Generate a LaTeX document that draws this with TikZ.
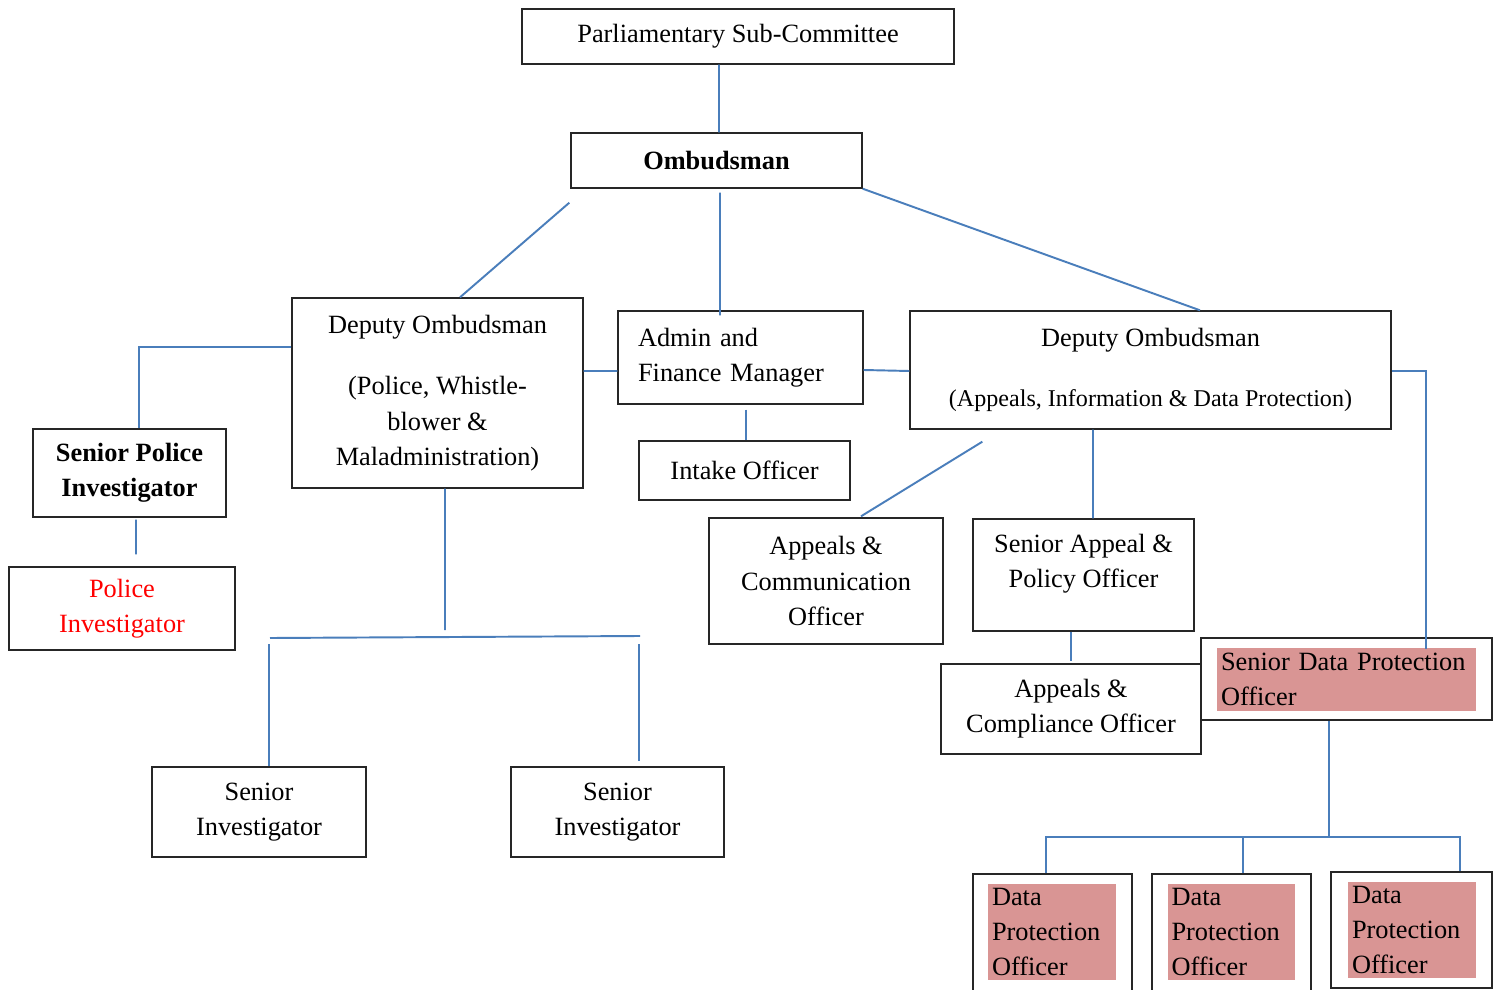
\documentclass[tikz,border=0pt]{standalone}
\usepackage{fontspec}
\setmainfont{Liberation Serif}
\usetikzlibrary{calc}
\definecolor{lineblue}{HTML}{4A7EBB}
\definecolor{pinkhl}{HTML}{D99594}
\newcommand{\dfont}{\fontsize{15}{20}\selectfont}
\tikzset{
  box/.style={draw=black!85, line width=0.8pt, inner sep=0pt, align=center, font=\dfont},
  conn/.style={draw=lineblue, line width=1.1pt},
  hl/.style={fill=pinkhl, inner xsep=0.08cm, inner ysep=0pt, align=left, font=\dfont},
}
\begin{document}
\begin{tikzpicture}[x=0.02cm,y=-0.02cm]
\clip (0,0) rectangle (1499,990);
\fill[white] (0,0) rectangle (1499,990);

% nodes
\node[box, minimum width=8.64cm, minimum height=1.1cm] (parl) at (738,36.5) {Parliamentary Sub-Committee};
\node[box, minimum width=5.82cm, minimum height=1.1cm, font=\dfont\bfseries] (omb) at (716.5,160.5) {Ombudsman};
\node[box, minimum width=5.82cm, minimum height=3.8cm] (dep1) at (437.5,393) {Deputy Ombudsman\\[15pt](Police, Whistle-\\blower \&\\Maladministration)};
\node[box, minimum width=4.9cm, minimum height=1.86cm, align=left, text width=4.1cm, inner xsep=0.4cm] (admin) at (740.5,357.5) {Admin and\\Finance Manager};
\node[box, minimum width=4.22cm, minimum height=1.18cm] (intake) at (744.5,470.5) {Intake Officer};
\node[box, minimum width=9.62cm, minimum height=2.36cm] (dep2) at (1150.5,370) {Deputy Ombudsman\\[14pt]{\fontsize{13.7}{16}\selectfont (Appeals, Information \& Data Protection)}};
\node[box, minimum width=3.86cm, minimum height=1.76cm, font=\dfont\bfseries] (spi) at (129.5,473) {Senior Police\\Investigator};
\node[box, minimum width=4.52cm, minimum height=1.66cm, text=red] (pi) at (122,608.5) {Police\\Investigator};
\node[box, minimum width=4.68cm, minimum height=2.52cm] (acomm) at (826,581) {Appeals \&\\Communication\\Officer};
\node[box, minimum width=4.42cm, minimum height=2.24cm] (sapo) at (1083.5,575) {};
\node[font=\dfont, align=center] (sapot) at (1083.5,564) {Senior Appeal \&\\Policy Officer};
\node[box, minimum width=5.2cm, minimum height=1.8cm] (acomp) at (1071,709) {Appeals \&\\Compliance Officer};
\node[box, minimum width=5.82cm, minimum height=1.64cm] (sdpo) at (1346.5,679) {};
\node[hl, text width=5.02cm, minimum height=1.26cm] (sdpot) at (1346.5,679.5) {Senior Data Protection\\Officer};
\node[box, minimum width=4.28cm, minimum height=1.8cm] (si1) at (259,812) {Senior\\Investigator};
\node[box, minimum width=4.26cm, minimum height=1.8cm] (si2) at (617.5,812) {Senior\\Investigator};
\node[box, minimum width=3.18cm, minimum height=2.52cm] (dpo1) at (1052.5,937) {};
\node[hl, text width=2.40cm, minimum height=1.92cm] (dpo1t) at (1052,932) {Data\\Protection\\Officer};
\node[box, minimum width=3.18cm, minimum height=2.52cm] (dpo2) at (1231.5,937) {};
\node[hl, text width=2.40cm, minimum height=1.92cm] (dpo2t) at (1231.5,932) {Data\\Protection\\Officer};
\node[box, minimum width=3.22cm, minimum height=2.32cm] (dpo3) at (1411.5,930) {};
\node[hl, text width=2.40cm, minimum height=1.92cm] (dpo3t) at (1412,930) {Data\\Protection\\Officer};

% junction coordinates
\coordinate (j1) at (445,630);
\coordinate (b1) at (270,638);
\coordinate (b2) at (640,636);
\coordinate (j2) at (1329,838);

% connectors
\draw[conn] ($(parl.south)+(-19,0)$) -- ($(omb.north)+(2.5,0)$);
\draw[conn] ($(omb.south)+(3.5,4)$) -- ($(admin.north)+(-20.5,5)$);
\draw[conn] ($(omb.south west)+(-1,14)$) -- ($(dep1.north)+(22.5,0)$);
\draw[conn] (omb.south east) -- ($(dep2.north)+(49.5,0)$);
\draw[conn] ($(dep1.west)+(0,-46)$) -| ($(spi.north)+(9.5,0)$);
\draw[conn] ($(spi.south)+(6.5,2)$) -- ($(pi.north)+(14,-12)$);
\draw[conn] ($(dep1.east)+(0,-22)$) -- ($(admin.west)+(0,13.5)$);
\draw[conn] ($(admin.east)+(0,12.5)$) -- ($(dep2.west)+(0,1)$);
\draw[conn] ($(admin.south)+(5.5,5)$) -- ($(intake.north)+(1.5,0)$);
\draw[conn] ($(dep1.south)+(7.5,0)$) -- (j1);
\draw[conn] (b1) -- (b2);
\draw[conn] ($(si1.north)+(10,-122)$) -- ($(si1.north)+(10,0)$);
\draw[conn] ($(si2.north)+(21.5,-122)$) -- ($(si2.north)+(21.5,-5)$);
\draw[conn] ($(dep2.south west)+(73,12)$) -- ($(acomm.north)+(35,-1)$);
\draw[conn] ($(dep2.south)+(-57.5,0)$) -- ($(sapo.north)+(9.5,0)$);
\draw[conn] ($(sapo.south)+(-12.5,0)$) -- ($(acomp.north)+(0,-2)$);
\draw[conn] ($(dep2.east)+(0,1)$) -| ($(sdpo.north)+(79.5,12)$);
\draw[conn] ($(sdpo.south)+(-17.5,0)$) -- (j2);
\draw[conn] ($(dpo1.north)+(-6.5,0)$) |- ($(dpo3.north)+(48.5,-34)$) -- ($(dpo3.north)+(48.5,0)$);
\draw[conn] ($(dpo2.north)+(11.5,0)$) -- ++(0,-36);
\end{tikzpicture}
\end{document}
